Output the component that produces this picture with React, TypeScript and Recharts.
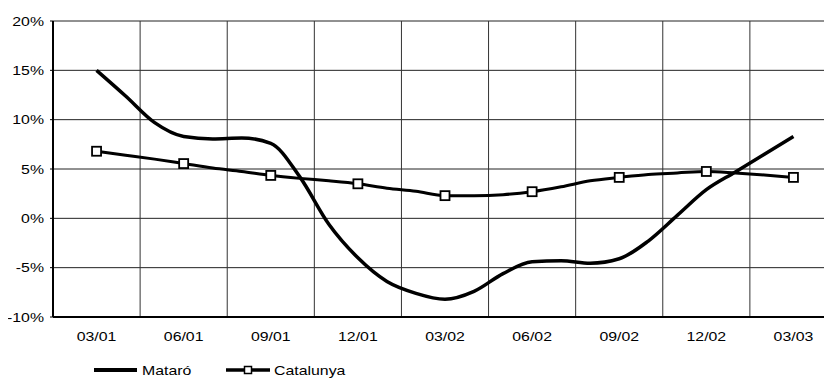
import React from 'react';
import { LineChart, Line, XAxis, YAxis, CartesianGrid, ReferenceLine, Legend } from 'recharts';

const tickLabels = ['03/01', '06/01', '09/01', '12/01', '03/02', '06/02', '09/02', '12/02', '03/03'];
const mataro = [15.0, 12.4, 9.7, 8.3, 8.05, 8.15, 7.6, 4.2, -0.6, -4.0, -6.4, -7.6, -8.2, -7.4, -5.6, -4.4, -4.3, -4.55, -4.1, -2.3, 0.3, 2.9, 4.7, 6.5, 8.3];
const catalunya = [6.8, 6.4, 6.0, 5.55, 5.1, 4.75, 4.35, 4.05, 3.8, 3.5, 3.05, 2.75, 2.3, 2.3, 2.4, 2.7, 3.2, 3.8, 4.15, 4.45, 4.6, 4.75, 4.6, 4.4, 4.15];
const yTicks = [-10, -5, 0, 5, 10, 15, 20];
const seriesNames = ['Mataró', 'Catalunya'];

const MONTHS_PER_LABEL = 3;
const data = mataro.map((m, i) => ({ idx: i, mataro: m, catalunya: catalunya[i] }));
const xTicks = tickLabels.map((_, i) => i * MONTHS_PER_LABEL);
const bounds = tickLabels.slice(0, -1).map((_, i) => i * MONTHS_PER_LABEL + MONTHS_PER_LABEL / 2);

const FONT = '"Liberation Sans", Arial, Helvetica, sans-serif';
const SX = 1.22;
const baseText = { fontFamily: FONT, fontSize: 13, fill: '#000' };

const XTick = (props: any) => {
  const { x, y, payload } = props;
  return (
    <g transform={`translate(${x},${y})`}>
      <text transform={`scale(${SX},1)`} x={0} y={0} dy="0.71em" textAnchor="middle" style={baseText}>
        {tickLabels[Math.round(payload.value / MONTHS_PER_LABEL)]}
      </text>
    </g>
  );
};

const YTick = (props: any) => {
  const { x, y, payload } = props;
  return (
    <g transform={`translate(${x},${y})`}>
      <text transform={`scale(${SX},1)`} x={0} y={0} dy="0.355em" textAnchor="end" style={baseText}>
        {`${payload.value}%`}
      </text>
    </g>
  );
};

const SquareDot = (props: any) => {
  const { cx, cy, index } = props;
  if (index % MONTHS_PER_LABEL !== 0 || cx == null || cy == null) return <g key={`d${index}`} />;
  return <rect key={`d${index}`} x={cx - 4.5} y={cy - 4.5} width={9} height={9} fill="#fff" stroke="#000" strokeWidth={1.8} />;
};

const LegendContent = () => (
  <div style={{ width: 840, height: 31 }}>
    <svg width={840} height={31} style={{ display: 'block' }}>
      <line x1={86} x2={129} y1={23} y2={23} stroke="#000" strokeWidth={4} />
      <g transform={`translate(134,23)`}>
        <text transform={`scale(${SX},1)`} x={0} y={0} dy="0.355em" style={baseText}>{seriesNames[0]}</text>
      </g>
      <line x1={218} x2={262} y1={23} y2={23} stroke="#000" strokeWidth={3.5} />
      <rect x={236.5} y={19.5} width={7} height={7} fill="#fff" stroke="#000" strokeWidth={1.5} />
      <g transform={`translate(266,23)`}>
        <text transform={`scale(${SX},1)`} x={0} y={0} dy="0.355em" style={baseText}>{seriesNames[1]}</text>
      </g>
    </svg>
  </div>
);

export default function App() {
  return (
    <div style={{ width: 824, height: 370, overflow: 'hidden', fontFamily: FONT }}>
      <LineChart width={840} height={370} data={data} margin={{ top: 13, right: 11, left: 0, bottom: 0 }}>
        <CartesianGrid vertical={false} stroke="#222" strokeWidth={1} />
        {bounds.map((b) => (
          <ReferenceLine key={b} x={b} stroke="#333" strokeWidth={1} ifOverflow="visible" />
        ))}
        <XAxis
          dataKey="idx"
          type="number"
          domain={[-1.5, 25.5]}
          ticks={xTicks}
          height={30}
          tickLine={false}
          tickSize={0}
          tickMargin={15}
          axisLine={{ stroke: '#000', strokeWidth: 2 }}
          tick={<XTick />}
          allowDataOverflow
        />
        <YAxis
          type="number"
          domain={[-10, 20]}
          ticks={yTicks}
          width={45}
          tickSize={3}
          tickMargin={6}
          tickLine={{ stroke: '#000', strokeWidth: 1 }}
          axisLine={{ stroke: '#000', strokeWidth: 2 }}
          tick={<YTick />}
          interval={0}
        />
        <Legend verticalAlign="bottom" align="left" content={<LegendContent />} />
        <Line type="monotone" dataKey="catalunya" name={seriesNames[1]} stroke="#000" strokeWidth={3} dot={<SquareDot />} activeDot={false} isAnimationActive={false} />
        <Line type="monotone" dataKey="mataro" name={seriesNames[0]} stroke="#000" strokeWidth={3.5} dot={false} activeDot={false} isAnimationActive={false} />
      </LineChart>
    </div>
  );
}
